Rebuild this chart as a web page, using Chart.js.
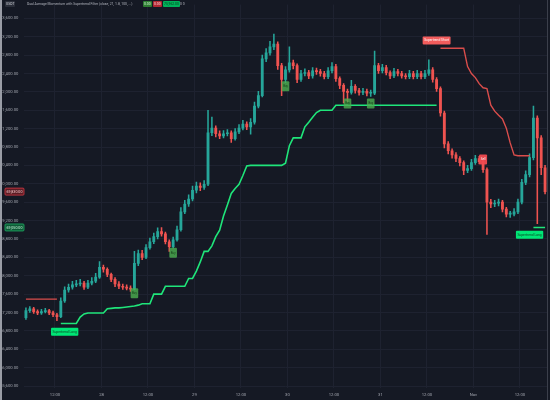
<!DOCTYPE html>
<html>
<head>
<meta charset="utf-8">
<script src="https://cdn.jsdelivr.net/npm/chart.js@4.4.1/dist/chart.umd.min.js"></script>
<style>
  html, body { margin: 0; padding: 0; background: #151924; }
  #wrap { position: relative; width: 550px; height: 400px; overflow: hidden; background: #151924; }
  #edge { position: absolute; left: 0; top: 0; width: 2px; height: 400px; background: #9a9da6; }
  #redge { position: absolute; left: 547px; top: 0; width: 1px; height: 400px; background: #3b3f4b; }
  .hd { position: absolute; top: 1px; height: 6px; line-height: 6px; font-family: Roboto, sans-serif; font-size: 3.4px; color: #b2b5be; white-space: nowrap; }
  .box { padding: 0 1px; border-radius: 1px; }
</style>
</head>
<body>
<div id="wrap">
  <canvas id="chart" width="550" height="400"></canvas>
  <div id="edge"></div>
  <div id="redge"></div>
  <div class="hd box" style="left:5px;background:#2a2e39;color:#d1d4dc;">USDT</div>
  <div class="hd" style="left:27px;">Dual Average Momentum with Supertrend Filter (close, 21, 1.8, 100, ...)</div>
  <div class="hd box" style="left:143px;background:#2e7d32;color:#d1f5d3;">0.00</div>
  <div class="hd box" style="left:153px;background:#b22833;color:#ffd6d9;">0.00</div>
  <div class="hd box" style="left:163px;background:#00b35a;color:#063d1e;">75,962.00</div>
  <div class="hd" style="left:180px;">0 0</div>
</div>
<script>
// time axis: hours from Oct 27 00:00, one candle per hour
const startHour = 4;
const tickHours = [12, 24, 36, 48, 60, 72, 84, 96, 108, 120, 132];
const tickLabels = ['12:00', '28', '12:00', '29', '12:00', '30', '12:00', '31', '12:00', 'Nov', '12:00'];
const yTickValues = [65600, 66000, 66400, 66800, 67200, 67600, 68000, 68400, 68800, 69200, 69600,
    70000, 70400, 70800, 71200, 71600, 72000, 72400, 72800, 73200, 73600];

const firstOpen = 67085;
const closes = [
    67240, 67280, 67220, 67190, 67220, 67240, 67190, 67150, 67110, 67450,
    67690, 67750, 67800, 67820, 67840, 67750, 67840, 67880, 67970, 68180,
    68140, 68030, 67920, 67820, 67770, 67750, 67730, 67710, 68270, 68480,
    68400, 68610, 68740, 68850, 68960, 68910, 68740, 68630, 68780, 69000,
    69390, 69560, 69670, 69860, 69950, 69920, 69990, 71110, 71210, 71090,
    71040, 71090, 71110, 70980, 71130, 71210, 71300, 71240, 71340, 71690,
    71920, 72720, 72850, 72980, 73040, 72570, 72270, 72480, 72630, 72570,
    72270, 72400, 72420, 72350, 72460, 72440, 72400, 72330, 72460, 72550,
    72290, 72140, 72010, 71990, 72120, 72030, 71990, 72010, 71970, 71970,
    72570, 72460, 72530, 72420, 72350, 72440, 72400, 72350, 72330, 72400,
    72330, 72400, 72330, 72400, 72480, 72270, 72070, 71540, 70870, 70720,
    70630, 70550, 70460, 70290, 70330, 70460, 70550, 70480, 70310, 69600,
    69560, 69580, 69600, 69450, 69340, 69340, 69390, 69600, 70030, 70200,
    70570, 71430, 71000, 70350, 69830
];
const highs = [
    67300, 67330, 67310, 67260, 67270, 67290, 67270, 67230, 67180, 67520,
    67760, 67820, 67880, 67900, 67920, 67880, 67900, 67960, 68050, 68310,
    68230, 68170, 68060, 67960, 67870, 67820, 67800, 67780, 68530, 68560,
    68550, 68680, 68820, 68930, 69040, 69050, 68950, 68780, 68840, 69080,
    69480, 69640, 69760, 69950, 70040, 70020, 70070, 71600, 71450, 71260,
    71150, 71160, 71180, 71150, 71200, 71290, 71380, 71350, 71420, 71780,
    72010, 72800, 72940, 73100, 73260, 73090, 72620, 72550, 72980, 72690,
    72610, 72470, 72500, 72470, 72530, 72520, 72490, 72450, 72530, 72640,
    72600, 72330, 72180, 72060, 72250, 72160, 72080, 72080, 72060, 72040,
    72890, 72620, 72600, 72580, 72460, 72510, 72490, 72450, 72400, 72470,
    72450, 72470, 72450, 72470, 72700, 72530, 72310, 72110, 71580, 70920,
    70760, 70680, 70590, 70500, 70400, 70530, 70620, 70600, 70520, 70350,
    69660, 69640, 69670, 69640, 69490, 69400, 69460, 69670, 70100, 70280,
    70650, 71690, 71480, 71050, 70400
];
const lows = [
    67050, 67200, 67180, 67150, 67160, 67190, 67150, 67110, 67020, 67090,
    67420, 67640, 67710, 67760, 67780, 67700, 67720, 67800, 67850, 67940,
    68080, 67980, 67870, 67760, 67720, 67700, 67690, 67660, 67690, 68220,
    68350, 68370, 68580, 68700, 68800, 68860, 68690, 68530, 68600, 68750,
    68970, 69350, 69510, 69630, 69800, 69850, 69880, 69960, 71050, 71020,
    70980, 71000, 71040, 70900, 70950, 71090, 71170, 71180, 71080, 71300,
    71650, 71890, 72660, 72800, 72920, 72490, 71920, 72200, 72430, 72500,
    72200, 72230, 72350, 72290, 72300, 72380, 72340, 72280, 72290, 72410,
    72230, 72070, 71760, 71780, 71950, 71970, 71930, 71940, 71910, 71900,
    71940, 72400, 72410, 72370, 72290, 72310, 72350, 72300, 72280, 72290,
    72280, 72290, 72280, 72290, 72360, 72210, 72010, 71470, 70780, 70650,
    70560, 70480, 70390, 70200, 70240, 70290, 70420, 70430, 70250, 68900,
    69480, 69500, 69520, 69390, 69280, 69270, 69300, 69350, 69560, 69980,
    70150, 70520, 69130, 70200, 69780
];

// supertrend lines (null where the other side is active)
const stLong = [
    null, null, null, null, null, null, null, null, null, 66960,
    66960, 66960, 66960, 66960, 67100, 67170, 67190, 67190, 67190, 67190,
    67190, 67280, 67290, 67300, 67300, 67310, 67320, 67330, 67340, 67360,
    67390, 67390, 67390, 67600, 67600, 67600, 67770, 67770, 67770, 67770,
    67770, 67770, 67940, 67940, 68100, 68300, 68530, 68530, 68650, 68850,
    68990, 69300, 69540, 69790, 69900, 69990, 70180, 70390, 70400, 70400,
    70400, 70400, 70400, 70400, 70400, 70400, 70400, 70450, 70830, 71000,
    71000, 71000, 71240, 71340, 71450, 71550, 71600, 71600, 71600, 71600,
    71710, 71710, 71710, 71710, 71710, 71710, 71710, 71710, 71710, 71710,
    71710, 71710, 71710, 71710, 71710, 71710, 71710, 71710, 71710, 71710,
    71710, 71710, 71710, 71710, 71710, 71710, 71710, null, null, null,
    null, null, null, null, null, null, null, null, null, null,
    null, null, null, null, null, null, null, null, null, null,
    null, 69050, 69050, 69050, 69050
];
const stShort = [
    67490, 67490, 67490, 67490, 67490, 67490, 67490, 67490, 67490, null,
    null, null, null, null, null, null, null, null, null, null,
    null, null, null, null, null, null, null, null, null, null,
    null, null, null, null, null, null, null, null, null, null,
    null, null, null, null, null, null, null, null, null, null,
    null, null, null, null, null, null, null, null, null, null,
    null, null, null, null, null, null, null, null, null, null,
    null, null, null, null, null, null, null, null, null, null,
    null, null, null, null, null, null, null, null, null, null,
    null, null, null, null, null, null, null, null, null, null,
    null, null, null, null, null, null, null, 72950, 72950, 72950,
    72950, 72950, 72950, 72950, 72550, 72400, 72310, 72180, 72090, 72070,
    71710, 71580, 71490, 71410, 71210, 70890, 70630, 70610, 70610, 70610,
    70610, null, null, null, null
];

// signal labels: candle index and price level of the label centre
const buyIdx = [28, 38, 67, 83, 89];
const buyPrice = [67620, 68500, 72120, 71750, 71750];
const sellIdx = [118];
const sellPrice = [70530];
const flipText = ['Supertrend Long', 'Supertrend Short', 'Supertrend Long'];
const flipIdx = [10, 106, 130];
const flipPrice = [66780, 73120, 68890];

const UP = '#26a69a', DOWN = '#ef5350';
const opens = [firstOpen].concat(closes.slice(0, -1));
const hourOf = i => startHour + i + 0.5;
const candleColor = ctx => closes[ctx.dataIndex] >= opens[ctx.dataIndex] ? UP : DOWN;

function roundBox(ctx, cx, cy, w, h, fill, stroke) {
    ctx.beginPath();
    ctx.roundRect(cx - w / 2, cy - h / 2, w, h, 1);
    ctx.fillStyle = fill;
    ctx.fill();
    if (stroke) { ctx.strokeStyle = stroke; ctx.lineWidth = 0.8; ctx.stroke(); }
}

function tag(ctx, cx, cy, text, size, fill, color, minW, h, stroke) {
    ctx.font = size + 'px Roboto';
    const w = Math.max(minW, ctx.measureText(text).width + 3);
    roundBox(ctx, cx, cy, w, h, fill, stroke);
    ctx.fillStyle = color;
    ctx.textAlign = 'center';
    ctx.textBaseline = 'middle';
    ctx.fillText(text, cx, cy + 0.2);
}

const labelPlugin = {
    id: 'signalLabels',
    afterDatasetsDraw(chart) {
        const {ctx, scales: {x, y}} = chart;
        ctx.save();
        buyIdx.forEach((k, n) => tag(ctx, x.getPixelForValue(hourOf(k)), y.getPixelForValue(buyPrice[n]),
            'Buy', 2.8, 'rgba(76,175,80,0.8)', '#123d16', 7.5, 10));
        sellIdx.forEach((k, n) => tag(ctx, x.getPixelForValue(hourOf(k)), y.getPixelForValue(sellPrice[n]),
            'Sell', 2.8, 'rgba(242,74,80,0.95)', '#ffffff', 8, 10));
        flipIdx.forEach((k, n) => {
            const isLong = flipText[n].endsWith('Long');
            tag(ctx, x.getPixelForValue(hourOf(k)), y.getPixelForValue(flipPrice[n]), flipText[n], 3.3,
                isLong ? '#00e676' : '#f25c5c', isLong ? '#0b3d1f' : '#ffffff', 0, 8);
        });
        ctx.restore();
    },
    afterDraw(chart) {
        // last price and supertrend value tags on the price scale
        const {ctx, scales: {y}} = chart;
        const fmt = v => v.toLocaleString('en-US', {minimumFractionDigits: 2, maximumFractionDigits: 2});
        const lastClose = closes[closes.length - 1];
        const lastLong = stLong[stLong.length - 1];
        ctx.save();
        tag(ctx, 14.5, y.getPixelForValue(lastClose), fmt(lastClose), 3.6, '#5c1d25', '#f7c9cc', 19, 7, '#d83a45');
        tag(ctx, 14.5, y.getPixelForValue(lastLong), fmt(lastLong), 3.6, '#0f5a37', '#c9f7dc', 19, 7, '#1fae63');
        ctx.restore();
    }
};

const gridColor = '#1e2230';
const tickFont = {family: 'Roboto', size: 4.2};

new Chart(document.getElementById('chart').getContext('2d'), {
    type: 'bar',
    data: {
        datasets: [
            {
                type: 'line', label: 'Supertrend Long', order: 0,
                data: stLong.map((v, i) => ({x: hourOf(i), y: v})),
                borderColor: '#1fe57a', borderWidth: 1.6, pointRadius: 0, spanGaps: false
            },
            {
                type: 'line', label: 'Supertrend Short', order: 0,
                data: stShort.map((v, i) => ({x: hourOf(i), y: v})),
                borderColor: 'rgba(239,83,80,0.9)', borderWidth: 1.4, pointRadius: 0, spanGaps: false
            },
            {
                label: 'Wicks', order: 2, grouped: false,
                data: lows.map((v, i) => ({x: hourOf(i), y: [v, highs[i]]})),
                backgroundColor: candleColor, barThickness: 0.9
            },
            {
                label: 'Bodies', order: 1, grouped: false,
                data: opens.map((v, i) => ({x: hourOf(i), y: [v, closes[i]]})),
                backgroundColor: candleColor, barThickness: 2.2, minBarLength: 1
            }
        ]
    },
    options: {
        responsive: false,
        animation: false,
        layout: {padding: {right: 3}},
        scales: {
            x: {
                type: 'linear', min: 4, max: 139, offset: false,
                afterBuildTicks: s => { s.ticks = tickHours.map(v => ({value: v})); },
                afterFit: s => { s.height = 12; },
                grid: {color: gridColor, drawTicks: false, offset: false},
                border: {display: false},
                ticks: {
                    color: '#a3a6af', font: tickFont, padding: 4, maxRotation: 0, autoSkip: false,
                    callback: v => tickLabels[tickHours.indexOf(v)]
                }
            },
            y: {
                position: 'left', min: 65557, max: 73901,
                afterBuildTicks: s => { s.ticks = yTickValues.map(v => ({value: v})); },
                afterFit: s => { s.width = 24; },
                grid: {color: gridColor, drawTicks: false},
                border: {display: false},
                ticks: {
                    color: '#a3a6af', font: tickFont, padding: 2, crossAlign: 'far',
                    callback: v => v.toLocaleString('en-US', {minimumFractionDigits: 2})
                }
            }
        },
        plugins: {
            legend: {display: false},
            tooltip: {enabled: false}
        }
    },
    plugins: [labelPlugin]
});
</script>
</body>
</html>
